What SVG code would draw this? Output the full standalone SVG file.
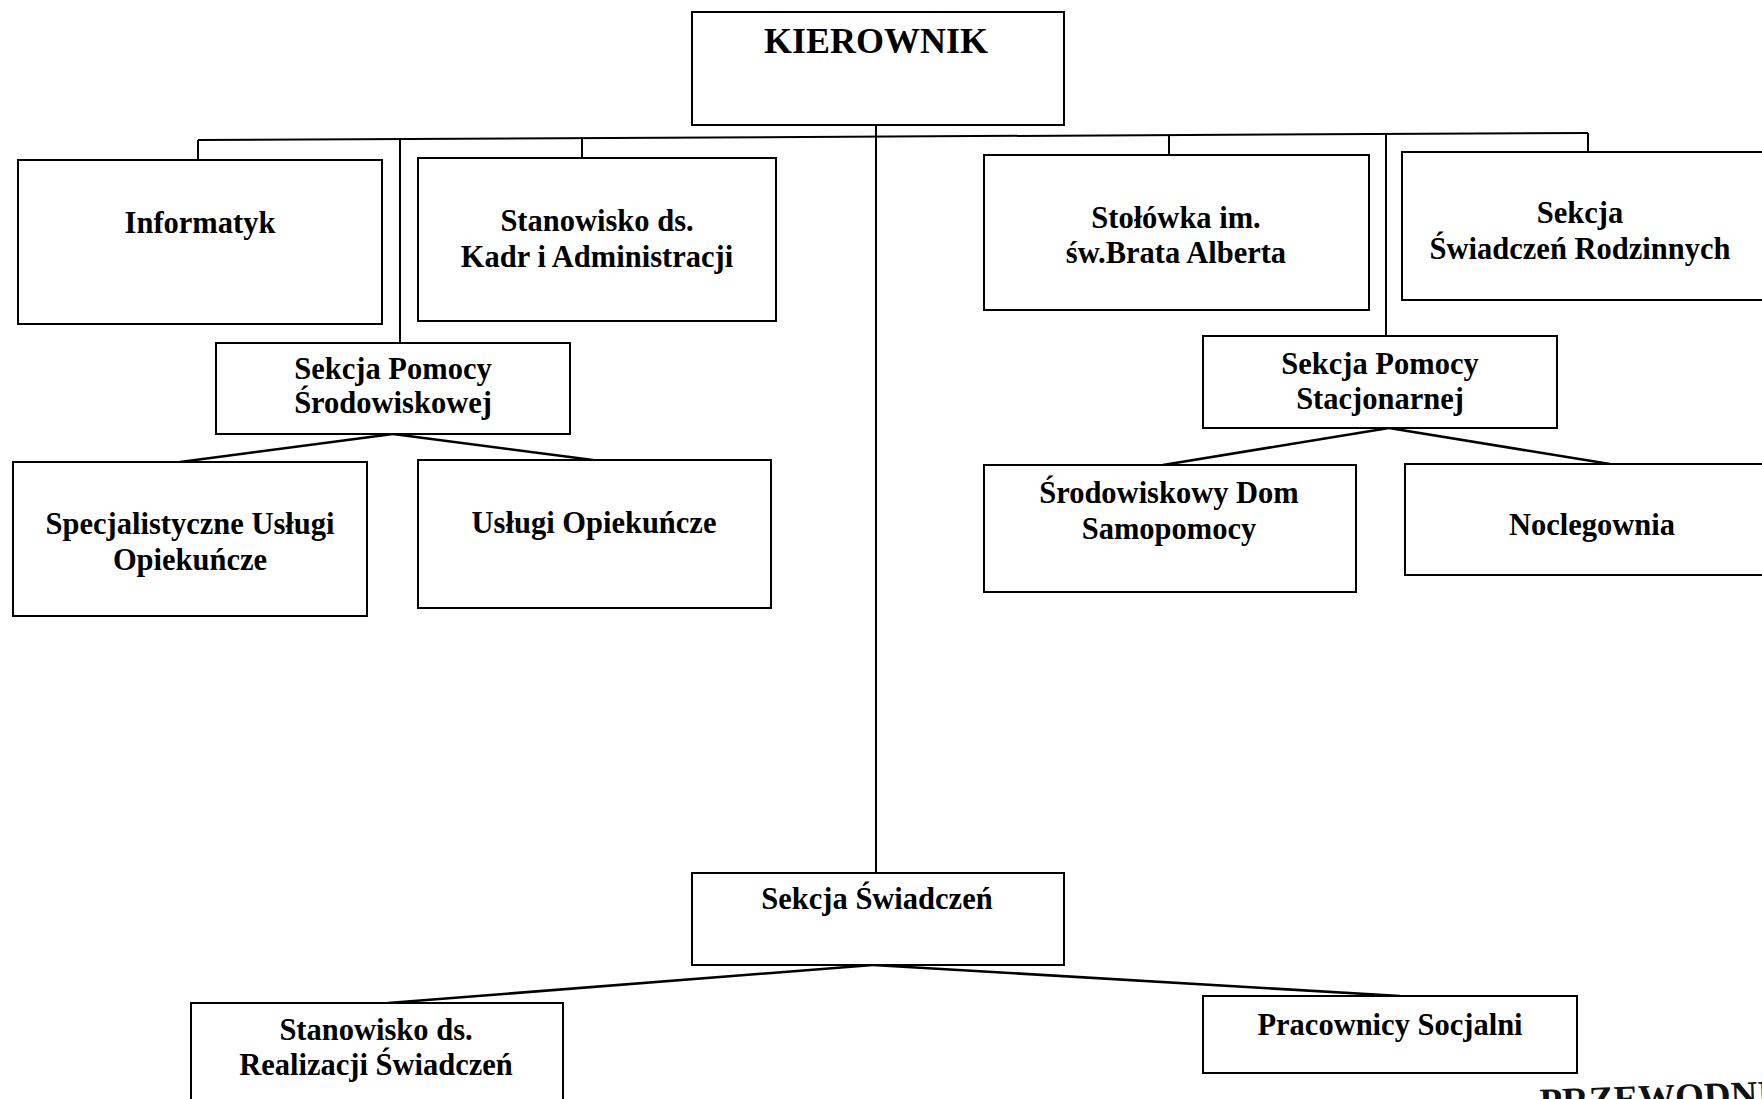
<svg xmlns="http://www.w3.org/2000/svg" width="1762" height="1099" viewBox="0 0 1762 1099">
<style>
.box{fill:#fff;stroke:#000;stroke-width:2}
.ln{fill:none;stroke:#000;stroke-width:2}
.dg{fill:none;stroke:#000;stroke-width:2.6}
text{font-family:"Liberation Serif","Times New Roman",serif;font-weight:bold;font-size:30.5px;fill:#000;text-anchor:middle}
.big{font-size:36px}
.stamp{font-weight:bold;font-size:37px;text-anchor:start;fill:#111}
</style>
<rect width="1762" height="1099" fill="#fff"/>
<g id="connectors">
<path class="ln" d="M198,140 L1588,133"/>
<path class="ln" d="M198,140 V160"/>
<path class="ln" d="M400,140 V343"/>
<path class="ln" d="M582,139 V158"/>
<path class="ln" d="M876,125 V873"/>
<path class="ln" d="M1169,135 V155"/>
<path class="ln" d="M1386,134 V336"/>
<path class="ln" d="M1588,133 V153"/>
<path class="dg" d="M393,434 L180,462"/>
<path class="dg" d="M393,434 L593,460"/>
<path class="dg" d="M1389,428 L1163,465"/>
<path class="dg" d="M1389,428 L1610,464"/>
<path class="dg" d="M873,965 L388,1003"/>
<path class="dg" d="M873,965 L1400,996"/>
</g>
<g id="kierownik"><rect class="box" x="692" y="12" width="372" height="113"/><text class="big" x="876" y="53">KIEROWNIK</text></g>
<g id="informatyk"><rect class="box" x="18" y="160" width="364" height="164"/><text x="200" y="233">Informatyk</text></g>
<g id="kadry"><rect class="box" x="418" y="158" width="358" height="163"/><text x="597" y="231">Stanowisko ds.</text><text x="597" y="267">Kadr i Administracji</text></g>
<g id="pomoc-srodowiskowa"><rect class="box" x="216" y="343" width="354" height="91"/><text x="393" y="379">Sekcja Pomocy</text><text x="393" y="413">Środowiskowej</text></g>
<g id="specjalistyczne"><rect class="box" x="13" y="462" width="354" height="154"/><text x="190" y="534">Specjalistyczne Usługi</text><text x="190" y="570">Opiekuńcze</text></g>
<g id="uslugi"><rect class="box" x="418" y="460" width="353" height="148"/><text x="594" y="533">Usługi Opiekuńcze</text></g>
<g id="stolowka"><rect class="box" x="984" y="155" width="385" height="155"/><text x="1176" y="228">Stołówka im.</text><text x="1176" y="263">św.Brata Alberta</text></g>
<g id="rodzinne"><rect class="box" x="1402" y="152" width="380" height="148"/><text x="1580" y="223">Sekcja</text><text x="1580" y="259">Świadczeń Rodzinnych</text></g>
<g id="pomoc-stacjonarna"><rect class="box" x="1203" y="336" width="354" height="92"/><text x="1380" y="374">Sekcja Pomocy</text><text x="1380" y="409">Stacjonarnej</text></g>
<g id="dom-samopomocy"><rect class="box" x="984" y="465" width="372" height="127"/><text x="1169" y="503">Środowiskowy Dom</text><text x="1169" y="539">Samopomocy</text></g>
<g id="noclegownia"><rect class="box" x="1405" y="464" width="380" height="111"/><text x="1592" y="535">Noclegownia</text></g>
<g id="swiadczenia"><rect class="box" x="692" y="873" width="372" height="92"/><text x="877" y="909">Sekcja Świadczeń</text></g>
<g id="realizacja"><rect class="box" x="191" y="1003" width="372" height="120"/><text x="376" y="1040">Stanowisko ds.</text><text x="376" y="1075">Realizacji Świadczeń</text></g>
<g id="pracownicy"><rect class="box" x="1203" y="996" width="374" height="77"/><text x="1390" y="1035">Pracownicy Socjalni</text></g>
<text class="stamp" x="1540" y="1114" transform="rotate(-2 1540 1114)">PRZEWODNI</text>
</svg>
